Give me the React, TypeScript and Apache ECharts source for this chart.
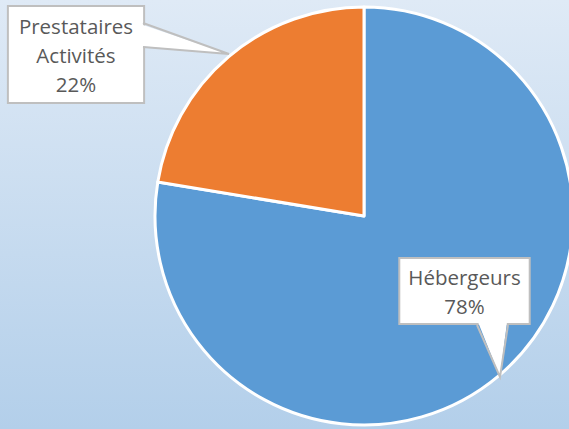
import React, { useEffect, useRef } from "react";
import * as echarts from "echarts";

const categories = ["Hébergeurs", "Prestataires\nActivités"];
const values = [77.6, 22.4];
const colors = ["#5b9bd5", "#ed7d31"];

// label box anchor (centre x, top y) — layout only
const labelAnchors = [
  [464.5, 259],
  [76, 7],
];

export default function App() {
  const ref = useRef<HTMLDivElement>(null);
  useEffect(() => {
    if (!ref.current) return;
    const chart = echarts.init(ref.current, undefined, { renderer: "svg" });
    const total = values.reduce((a, b) => a + b, 0);
    const labelBase = {
      show: true,
      position: "inside",
      formatter: (p: any) => `${p.name}\n${Math.round((p.value / total) * 100)}%`,
      fontFamily: "Open Sans",
      fontSize: 20.5,
      lineHeight: 29,
      color: "#595959",
      backgroundColor: "#ffffff",
      borderColor: "#bfbfbf",
      borderWidth: 2,
      align: "center",
    };
    chart.setOption({
      animation: false,
      backgroundColor: {
        type: "linear",
        x: 0,
        y: 0,
        x2: 0,
        y2: 1,
        colorStops: [
          { offset: 0, color: "#dfeaf6" },
          { offset: 1, color: "#b3cfea" },
        ],
      },
      series: [
        {
          type: "pie",
          center: [364, 216],
          radius: [0, 209],
          startAngle: 90,
          clockwise: true,
          silent: true,
          itemStyle: { borderColor: "#ffffff", borderWidth: 3 },
          labelLine: { show: false },
          data: categories.map((c, i) => ({
            name: c,
            value: values[i],
            itemStyle: { color: colors[i] },
            label:
              i === 0
                ? { ...labelBase, padding: [3, 8, 3, 8] }
                : { ...labelBase, padding: [4, 10, 4, 10] },
          })),
          labelLayout: (p: any) => ({
            x: labelAnchors[p.dataIndex][0],
            y: labelAnchors[p.dataIndex][1],
            align: "center",
            verticalAlign: "top",
          }),
        },
      ],
      graphic: [
        {
          type: "polygon",
          z: 100,
          shape: { points: [[140, 24], [229, 54], [140, 46]] },
          style: { fill: "#ffffff" },
        },
        {
          type: "polyline",
          z: 101,
          shape: { points: [[143, 23], [229, 54], [143, 47]] },
          style: { stroke: "#bfbfbf", lineWidth: 2, fill: null },
        },
        {
          type: "polygon",
          z: 100,
          shape: { points: [[478, 322], [500, 377], [507, 322]] },
          style: { fill: "#ffffff" },
        },
        {
          type: "polyline",
          z: 101,
          shape: { points: [[477, 325], [500, 377], [508, 325]] },
          style: { stroke: "#bfbfbf", lineWidth: 2, fill: null },
        },
      ],
    });
    return () => chart.dispose();
  }, []);
  return (
    <div
      ref={ref}
      style={{ position: "fixed", left: 0, top: 0, width: 569, height: 429 }}
    />
  );
}
